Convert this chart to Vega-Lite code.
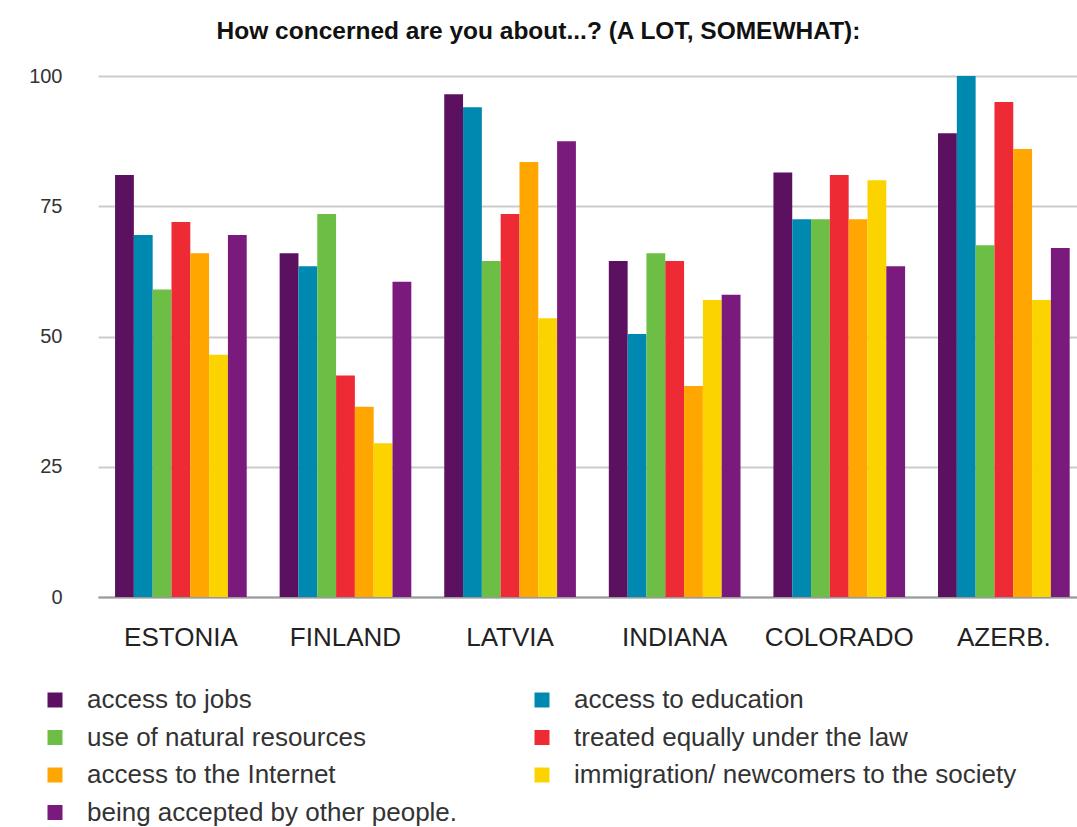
{
  "$schema": "https://vega.github.io/schema/vega-lite/v6.json",
  "autosize": "none",
  "width": 979,
  "height": 521,
  "padding": {"left": 98, "top": 76, "right": 0, "bottom": 230},
  "background": "white",
  "title": {
    "text": "How concerned are you about...? (A LOT, SOMEWHAT):",
    "fontSize": 24.5,
    "fontWeight": "bold",
    "font": "Liberation Sans",
    "color": "#111111",
    "anchor": "middle",
    "frame": "group",
    "dx": -49,
    "offset": 22
  },
  "config": {
    "font": "Liberation Sans",
    "view": {"stroke": null}
  },
  "data": {
    "values": [
      {"country": "ESTONIA", "item": "access to jobs", "value": 81},
      {"country": "ESTONIA", "item": "access to education", "value": 69.5},
      {"country": "ESTONIA", "item": "use of natural resources", "value": 59},
      {"country": "ESTONIA", "item": "treated equally under the law", "value": 72},
      {"country": "ESTONIA", "item": "access to the Internet", "value": 66},
      {"country": "ESTONIA", "item": "immigration/ newcomers to the society", "value": 46.5},
      {"country": "ESTONIA", "item": "being accepted by other people.", "value": 69.5},
      {"country": "FINLAND", "item": "access to jobs", "value": 66},
      {"country": "FINLAND", "item": "access to education", "value": 63.5},
      {"country": "FINLAND", "item": "use of natural resources", "value": 73.5},
      {"country": "FINLAND", "item": "treated equally under the law", "value": 42.5},
      {"country": "FINLAND", "item": "access to the Internet", "value": 36.5},
      {"country": "FINLAND", "item": "immigration/ newcomers to the society", "value": 29.5},
      {"country": "FINLAND", "item": "being accepted by other people.", "value": 60.5},
      {"country": "LATVIA", "item": "access to jobs", "value": 96.5},
      {"country": "LATVIA", "item": "access to education", "value": 94},
      {"country": "LATVIA", "item": "use of natural resources", "value": 64.5},
      {"country": "LATVIA", "item": "treated equally under the law", "value": 73.5},
      {"country": "LATVIA", "item": "access to the Internet", "value": 83.5},
      {"country": "LATVIA", "item": "immigration/ newcomers to the society", "value": 53.5},
      {"country": "LATVIA", "item": "being accepted by other people.", "value": 87.5},
      {"country": "INDIANA", "item": "access to jobs", "value": 64.5},
      {"country": "INDIANA", "item": "access to education", "value": 50.5},
      {"country": "INDIANA", "item": "use of natural resources", "value": 66},
      {"country": "INDIANA", "item": "treated equally under the law", "value": 64.5},
      {"country": "INDIANA", "item": "access to the Internet", "value": 40.5},
      {"country": "INDIANA", "item": "immigration/ newcomers to the society", "value": 57},
      {"country": "INDIANA", "item": "being accepted by other people.", "value": 58},
      {"country": "COLORADO", "item": "access to jobs", "value": 81.5},
      {"country": "COLORADO", "item": "access to education", "value": 72.5},
      {"country": "COLORADO", "item": "use of natural resources", "value": 72.5},
      {"country": "COLORADO", "item": "treated equally under the law", "value": 81},
      {"country": "COLORADO", "item": "access to the Internet", "value": 72.5},
      {"country": "COLORADO", "item": "immigration/ newcomers to the society", "value": 80},
      {"country": "COLORADO", "item": "being accepted by other people.", "value": 63.5},
      {"country": "AZERB.", "item": "access to jobs", "value": 89},
      {"country": "AZERB.", "item": "access to education", "value": 100},
      {"country": "AZERB.", "item": "use of natural resources", "value": 67.5},
      {"country": "AZERB.", "item": "treated equally under the law", "value": 95},
      {"country": "AZERB.", "item": "access to the Internet", "value": 86},
      {"country": "AZERB.", "item": "immigration/ newcomers to the society", "value": 57},
      {"country": "AZERB.", "item": "being accepted by other people.", "value": 67}
    ]
  },
  "mark": {"type": "bar"},
  "encoding": {
    "x": {
      "field": "country",
      "type": "nominal",
      "sort": ["ESTONIA", "FINLAND", "LATVIA", "INDIANA", "COLORADO", "AZERB."],
      "scale": {"paddingInner": 0.2, "paddingOuter": 0.074, "align": 0.7},
      "axis": {
        "title": null,
        "labelAngle": 0,
        "labelFontSize": 26,
        "labelColor": "#222222",
        "labelPadding": 27,
        "ticks": false,
        "domain": true,
        "domainColor": "#9a9a9a",
        "domainWidth": 2,
        "grid": false
      }
    },
    "xOffset": {
      "field": "item",
      "type": "nominal",
      "sort": ["access to jobs", "access to education", "use of natural resources", "treated equally under the law", "access to the Internet", "immigration/ newcomers to the society", "being accepted by other people."],
      "scale": {"paddingInner": 0, "paddingOuter": 0}
    },
    "y": {
      "field": "value",
      "type": "quantitative",
      "scale": {"domain": [0, 100], "nice": false},
      "axis": {
        "title": null,
        "values": [0, 25, 50, 75, 100],
        "domain": false,
        "ticks": false,
        "labelPadding": 36,
        "labelFontSize": 20,
        "labelColor": "#333333",
        "gridColor": "#cccccc",
        "gridWidth": 2
      }
    },
    "color": {
      "field": "item",
      "type": "nominal",
      "sort": ["access to jobs", "access to education", "use of natural resources", "treated equally under the law", "access to the Internet", "immigration/ newcomers to the society", "being accepted by other people."],
      "scale": {
        "domain": ["access to jobs", "access to education", "use of natural resources", "treated equally under the law", "access to the Internet", "immigration/ newcomers to the society", "being accepted by other people."],
        "range": ["#5B1060", "#0089B0", "#6DBE45", "#EE2A35", "#FFA600", "#FBD400", "#7B1A7D"]
      },
      "legend": {
        "title": null,
        "orient": "none",
        "legendX": -56,
        "legendY": 611,
        "direction": "horizontal",
        "columns": 2,
        "symbolType": "square",
        "symbolSize": 225,
        "symbolStrokeWidth": 0,
        "labelFontSize": 26,
        "labelColor": "#333333",
        "labelOffset": 19,
        "labelLimit": 600,
        "columnPadding": 71,
        "rowPadding": 11.5
      }
    }
  }
}
